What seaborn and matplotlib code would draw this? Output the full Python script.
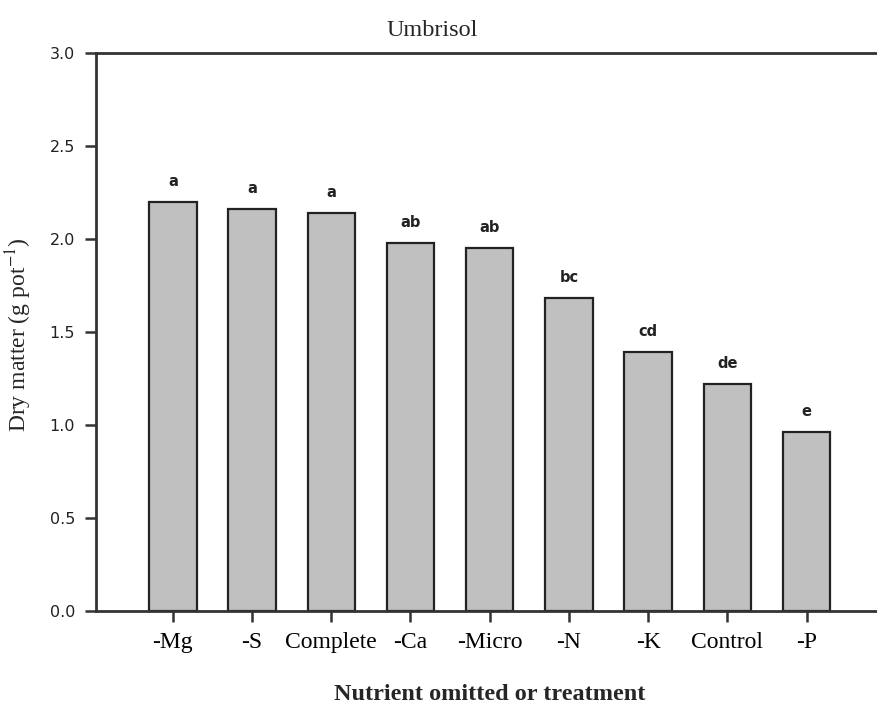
import numpy as np
import pandas as pd
import seaborn as sns
import matplotlib
matplotlib.use("Agg")
import matplotlib.pyplot as plt

sns.set_theme(style="white")
plt.rcParams['font.family'] = ['Liberation Serif', 'DejaVu Serif']
plt.rcParams['mathtext.fontset'] = 'stix'

treatments = ['-Mg', '-S', 'Complete', '-Ca', '-Micro', '-N', '-K', 'Control', '-P']
dry_matter = [2.20, 2.16, 2.14, 1.98, 1.95, 1.68, 1.39, 1.22, 0.96]
letters = ['a', 'a', 'a', 'ab', 'ab', 'bc', 'cd', 'de', 'e']
yticks = [0.0, 0.5, 1.0, 1.5, 2.0, 2.5, 3.0]

df = pd.DataFrame({'treatment': treatments, 'dm': dry_matter})

fig = plt.figure(figsize=(8.77, 7.06), dpi=100)
ax = fig.add_axes([0.1095, 0.1346, 0.8905, 0.7904])

sns.barplot(data=df, x='treatment', y='dm', color='#c0c0c0', saturation=1,
            edgecolor='#222222', linewidth=1.6, width=0.6, ax=ax)

for i, (v, l) in enumerate(zip(dry_matter, letters)):
    ax.text(i, v + 0.07, l, ha='center', va='bottom', fontsize=10.5,
            fontweight='bold', family='DejaVu Sans', color='#222222')

ax.set_xlim(-0.97, 8.89)
ax.set_ylim(0, 3.0)
ax.set_yticks(yticks)
ax.set_yticklabels([f'{t:.1f}' for t in yticks], family='DejaVu Sans', fontsize=11.5,
                   color='#222222')
for lab in ax.get_xticklabels():
    lab.set_fontsize(17)
    lab.set_color('black')

for s in ['left', 'top', 'bottom']:
    ax.spines[s].set_color('#333333')
    ax.spines[s].set_linewidth(2)
ax.spines['right'].set_visible(False)
ax.tick_params(axis='both', direction='out', length=8, width=1.8, color='#333333',
               left=True, bottom=True, pad=7)

ax.set_xlabel('Nutrient omitted or treatment', fontsize=17.5, fontweight='bold')
ax.xaxis.set_label_coords(0.504, -0.131)
ax.set_ylabel(r'Dry matter (g pot$^{-1}$)', fontsize=17)
ax.yaxis.set_label_coords(-0.08, 0.495)
ax.set_title('Umbrisol', fontsize=17.5, x=0.43, y=1.016)

fig.savefig('out.png', dpi=100)
